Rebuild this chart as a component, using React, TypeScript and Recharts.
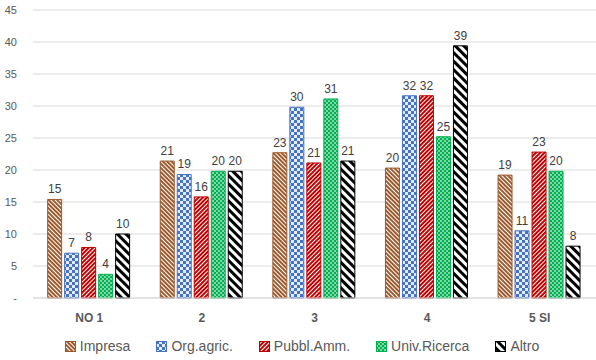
import { BarChart, Bar, XAxis, YAxis, CartesianGrid, Legend, LabelList } from "recharts";

const categories = ["NO 1", "2", "3", "4", "5 SI"];
const impresa = [15.4, 21.4, 22.7, 20.3, 19.2];
const orgAgric = [7.0, 19.3, 29.8, 31.6, 10.5];
const pubblAmm = [7.9, 15.8, 21.1, 31.6, 22.8];
const univRicerca = [3.7, 19.8, 31.1, 25.2, 19.8];
const altro = [10.0, 19.8, 21.4, 39.4, 8.1];
const yTicks = [0, 5, 10, 15, 20, 25, 30, 35, 40, 45];

const data = categories.map((name, i) => ({
  name,
  impresa: impresa[i],
  orgAgric: orgAgric[i],
  pubblAmm: pubblAmm[i],
  univRicerca: univRicerca[i],
  altro: altro[i],
}));

const series = [
  { key: "impresa", label: "Impresa", pattern: "pImpresa", color: "#9C5A2C" },
  { key: "orgAgric", label: "Org.agric.", pattern: "pOrg", color: "#4472C4" },
  { key: "pubblAmm", label: "Pubbl.Amm.", pattern: "pPubbl", color: "#C00000" },
  { key: "univRicerca", label: "Univ.Ricerca", pattern: "pUniv", color: "#00B050" },
  { key: "altro", label: "Altro", pattern: "pAltro", color: "#000000" },
];

const FONT = "'Liberation Sans', Arial, sans-serif";

function Patterns() {
  return (
    <defs>
      <pattern id="pImpresa" width="3" height="3" patternUnits="userSpaceOnUse" patternTransform="rotate(-45)">
        <rect width="3" height="3" fill="#fff" />
        <rect width="2" height="3" fill="#9C5A2C" />
      </pattern>
      <pattern id="pOrg" width="6" height="6" patternUnits="userSpaceOnUse">
        <rect width="6" height="6" fill="#E4ECF8" />
        <rect width="3" height="3" fill="#4472C4" />
        <rect x="3" y="3" width="3" height="3" fill="#4472C4" />
      </pattern>
      <pattern id="pPubbl" width="3" height="3" patternUnits="userSpaceOnUse" patternTransform="rotate(45)">
        <rect width="3" height="3" fill="#fff" />
        <rect width="2" height="3" fill="#C00000" />
      </pattern>
      <pattern id="pUniv" width="4" height="4" patternUnits="userSpaceOnUse">
        <rect width="4" height="4" fill="#00B050" />
        <rect x="0" y="0.5" width="2" height="1" fill="#fff" />
        <rect x="2" y="2.5" width="2" height="1" fill="#fff" />
      </pattern>
      <pattern id="pAltro" width="6" height="6" patternUnits="userSpaceOnUse" patternTransform="rotate(-45)">
        <rect width="6" height="6" fill="#fff" />
        <rect width="3" height="6" fill="#000" />
      </pattern>
    </defs>
  );
}

function LegendContent() {
  return (
    <div style={{ display: "flex", justifyContent: "center", gap: 26, fontFamily: FONT, fontSize: 14, color: "#595959", paddingLeft: 8, paddingTop: 10 }}>
      {series.map((s) => (
        <div key={s.key} style={{ display: "flex", alignItems: "center", gap: 4 }}>
          <svg width={11} height={11}>
            <rect x={0.5} y={0.5} width={10} height={10} fill={`url(#${s.pattern})`} stroke={s.color} />
          </svg>
          <span>{s.label}</span>
        </div>
      ))}
    </div>
  );
}

// eslint-disable-next-line @typescript-eslint/no-explicit-any
function ValueLabel(props: any) {
  const { x, y, width, value } = props;
  return (
    <text x={Number(x) + Number(width) / 2} y={Number(y) - 6} textAnchor="middle" fill="#404040" fontSize={12} fontFamily={FONT}>
      {Math.round(Number(value))}
    </text>
  );
}

export default function App() {
  return (
    <div style={{ position: "fixed", left: 0, top: 0, width: 596, height: 360, background: "#fff" }}>
      <svg width={0} height={0} style={{ position: "absolute" }}>
        <Patterns />
      </svg>
      <BarChart
        width={596}
        height={360}
        data={data}
        margin={{ top: 10, right: 0, left: 0, bottom: 0 }}
        barCategoryGap="13%"
        barGap={3}
      >
        <CartesianGrid vertical={false} stroke="#D9D9D9" />
        <XAxis
          dataKey="name"
          height={30}
          tickLine={false}
          axisLine={{ stroke: "#D9D9D9" }}
          tickMargin={9}
          tick={{ fill: "#595959", fontSize: 12, fontWeight: "bold", fontFamily: FONT }}
        />
        <YAxis
          width={33}
          domain={[0, 45]}
          ticks={yTicks}
          interval={0}
          tickLine={false}
          axisLine={false}
          tickMargin={10}
          tickFormatter={(v) => (v === 0 ? "-" : String(v))}
          tick={{ fill: "#595959", fontSize: 11, fontFamily: FONT }}
        />
        <Legend verticalAlign="bottom" height={32} content={() => <LegendContent />} wrapperStyle={{ height: 32 }} />
        {series.map((s) => (
          <Bar key={s.key} dataKey={s.key} fill={`url(#${s.pattern})`} stroke={s.color} strokeWidth={1} isAnimationActive={false}>
            <LabelList dataKey={s.key} content={<ValueLabel />} />
          </Bar>
        ))}
      </BarChart>
    </div>
  );
}
